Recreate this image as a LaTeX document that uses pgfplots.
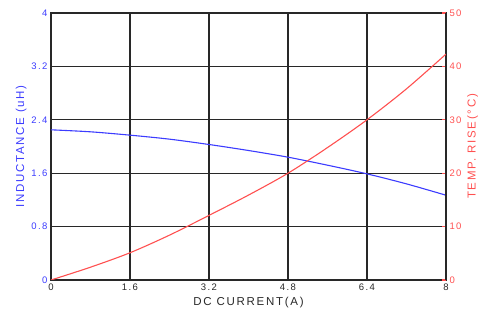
\documentclass[border=0pt]{standalone}
\usepackage{pgfplots}
\pgfplotsset{compat=1.18}
\usepackage{fontspec}
\setmainfont{Liberation Sans}
\newfontfamily\lbl[LetterSpace=15]{Liberation Sans}
\definecolor{cblue}{RGB}{60,60,255}
\definecolor{cred}{RGB}{255,80,80}
\definecolor{gridc}{RGB}{40,40,40}
\begin{document}
\begin{tikzpicture}
\begin{axis}[name=ax, scale only axis, width=395pt, height=267pt,
  xmin=0, xmax=8, ymin=0, ymax=4,
  xtick={0,1.6,3.2,4.8,6.4,8}, ytick={0,0.8,1.6,2.4,3.2,4},
  grid=major, major grid style={gridc, line width=1.15pt},
  axis line style={gridc, line width=1.15pt},
  major tick length=0pt,
  /pgf/number format/assume math mode=true,
  /pgf/number format/fixed,
  ticklabel style={font=\lbl\fontsize{9.5}{10}\selectfont},
  yticklabel style={text=cblue},
  xticklabel style={text=gridc},
  label style={font=\lbl\fontsize{11.5}{12}\selectfont},
  xlabel={DC CURRENT(A)}, xlabel style={text=gridc},
  ylabel={INDUCTANCE (uH)}, ylabel style={text=cblue, yshift=-2pt},
]
\addplot[cblue, line width=1.1pt, smooth] coordinates {
(0,2.25) (0.8,2.22) (1.6,2.17) (2.4,2.11) (3.2,2.03) (4.0,1.94) (4.8,1.84) (5.6,1.72) (6.4,1.59) (7.2,1.44) (8,1.27)};
\end{axis}
\begin{axis}[scale only axis, width=395pt, height=267pt,
  xmin=0, xmax=8, ymin=0, ymax=50,
  axis x line=none, axis y line*=right,
  axis line style={gridc, line width=1.15pt},
  ytick={0,10,20,30,40,50},
  tick align=inside, major tick length=4pt,
  ytick style={cred, line width=1.1pt},
  /pgf/number format/assume math mode=true,
  ticklabel style={font=\lbl\fontsize{9.5}{10}\selectfont},
  yticklabel style={text=cred},
  label style={font=\lbl\fontsize{11.5}{12}\selectfont},
  ylabel={TEMP. RISE(°C)}, ylabel style={text=cred, yshift=1pt},
]
\addplot[cred, line width=1.1pt, smooth] coordinates {
(0,0) (0.8,2.4) (1.6,5.1) (2.4,8.4) (3.2,12.1) (4.0,15.9) (4.8,20) (5.6,24.8) (6.4,30) (7.2,35.8) (8,42.3)};
\end{axis}
\pgfresetboundingbox
\path (ax.south west) ++(-51pt,-44pt) rectangle ++(485pt,324pt);
\end{tikzpicture}
\end{document}
